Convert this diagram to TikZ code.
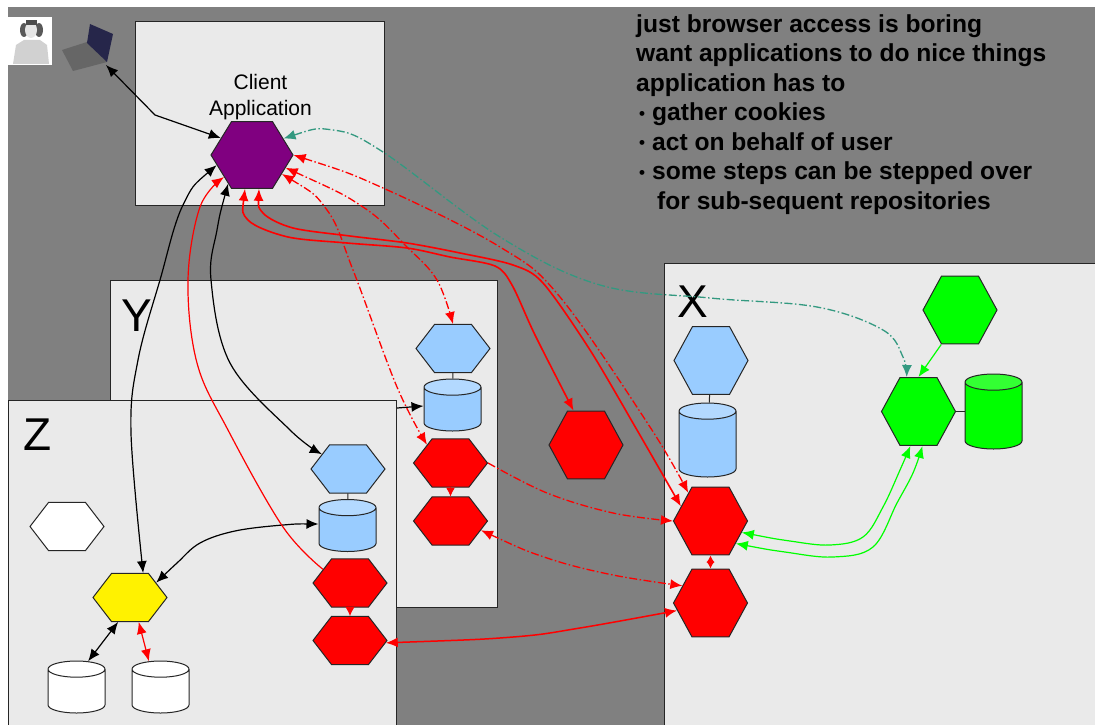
\documentclass[tikz,border=0pt]{standalone}
\usepackage{fontspec}
\setmainfont{Liberation Sans}
\usetikzlibrary{shapes.geometric,arrows.meta}
\definecolor{hallgray}{HTML}{808080}
\definecolor{boxgray}{HTML}{EAEAEA}
\definecolor{repoblue}{HTML}{99CCFF}
\definecolor{repocap}{HTML}{B3D9FF}
\definecolor{appviolet}{HTML}{800080}
\definecolor{repogreen}{HTML}{00FF00}
\definecolor{greencap}{HTML}{33FF33}
\definecolor{flowteal}{HTML}{339980}
\newcommand{\notedot}{\hspace*{3pt}\raisebox{1.5pt}{\fontsize{17}{17}\selectfont\textbullet}\hspace{7pt}}
\tikzset{
	domainbox/.style = {rectangle, draw = black!85, fill = boxgray, line width = 1.2pt, inner sep = 0pt, anchor = north west},
	domainmark/.style = {font = \fontsize{46}{46}\selectfont},
	hexa/.style = {regular polygon, regular polygon sides = 6, minimum size = 74pt, inner sep = 0pt, draw = black!85, line width = 1pt},
	hexflat/.style = {hexa, yscale = .75},
	hexfull/.style = {hexa, yscale = 1.06},
	repo/.style = {cylinder, shape border rotate = 90, shape aspect = 2.7, anchor = shape center, minimum width = 57pt, draw = black!85, line width = 1pt, inner sep = 3pt, cylinder uses custom fill},
	bluerepo/.style = {repo, minimum height = 52pt, cylinder body fill = repoblue, cylinder end fill = repocap},
	flow/.style = {line width = 1.2pt, {Latex[length = 12pt, width = 10pt]}-{Latex[length = 12pt, width = 10pt]}},
	intoflow/.style = {line width = 1.2pt, -{Latex[length = 12pt, width = 10pt]}},
	dotflow/.style = {line width = 1.3pt, dash pattern = on 8pt off 2.5pt on 1.5pt off 2.5pt},
	link/.style = {line width = 1pt, draw = black!85},
	stub/.style = {draw = red, line width = 1pt, -{Latex[length = 9pt, width = 9pt]}}
}
\begin{document}
\begin{tikzpicture}[x = 1pt, y = -1pt]
	\useasboundingbox (0,0) rectangle (1095,725);
	\fill[hallgray] (8,7) rectangle (1095,725);

	\node[domainbox, minimum width = 249pt, minimum height = 184pt] (clientbox) at (135,21) {};
	\node[domainbox, minimum width = 431pt, minimum height = 470pt] (xbox) at (664,263) {};
	\node[domainbox, minimum width = 387pt, minimum height = 327pt] (ybox) at (110,280) {};
	\node[domainbox, minimum width = 388pt, minimum height = 333pt] (zbox) at (8,400) {};

	\node[domainmark] (xmark) at (693,302) {X};
	\node[domainmark] (ymark) at (137,316) {Y};
	\node[domainmark] (zmark) at (38,435) {Z};

	\node[rectangle, fill = white, minimum width = 44pt, minimum height = 48pt, inner sep = 0pt] (person) at (30,41) {};
	\fill[black!18] (13,64) -- (16,45) -- (24,40) -- (40,40) -- (47,45) -- (49,64) -- cycle;
	\fill[black!65] (24,30) ellipse (4pt and 7pt) (39,30) ellipse (4pt and 7pt);
	\fill[black!10] (31,30) ellipse (6pt and 8pt);
	\fill[black!70] (26,20) rectangle (37,25);

	\fill[black!60] (62,50) -- (87,42) -- (107,62) -- (73,71) -- cycle;
	\fill[black!80!blue!70!gray] (90,24) -- (113,34) -- (107,62) -- (87,43) -- cycle;
	\coordinate (laptop) at (106,65);

	\node[font = \fontsize{21}{25.5}\selectfont, align = center, inner sep = 0pt] (clientlabel) at (260.5,97) {Client\\Application};
	\node[font = \bfseries\fontsize{24.6}{29.5}\selectfont, align = left, anchor = north west, inner sep = 0pt] (notes) at (636,14) {just browser access is boring\\want applications to do nice things\\application has to\\\notedot gather cookies\\\notedot act on behalf of user\\\notedot some steps can be stepped over\\\hspace*{21pt}for sub-sequent repositories};

	\node[hexa, fill = appviolet, minimum size = 82pt, yscale = .94] (client) at (252,155) {};

	\node[hexflat, fill = repoblue] (yblue) at (453,348.5) {};
	\node[bluerepo] (ydata) at (452.5,405) {};
	\node[hexflat, fill = red] (yredtop) at (450.5,463) {};
	\node[hexflat, fill = red] (yredlow) at (450.5,521) {};

	\node[hexfull, fill = red] (lonered) at (586,445) {};

	\node[hexflat, fill = repoblue] (zblue) at (348,469) {};
	\node[bluerepo] (zdata) at (347.5,525.5) {};
	\node[hexflat, fill = red] (zredtop) at (350,583) {};
	\node[hexflat, fill = red] (zredlow) at (350,640.5) {};
	\node[hexflat, fill = white] (zwhite) at (67,526.5) {};
	\node[hexflat, fill = yellow] (zyellow) at (130,597.5) {};
	\node[repo, minimum height = 52pt, cylinder body fill = white, cylinder end fill = white] (zstoreleft) at (76.5,687) {};
	\node[repo, minimum height = 52pt, cylinder body fill = white, cylinder end fill = white] (zstoreright) at (160.5,687) {};

	\node[hexfull, fill = repoblue] (xblue) at (711,360.5) {};
	\node[repo, minimum height = 74pt, cylinder body fill = repoblue, cylinder end fill = repocap] (xdata) at (707.5,440) {};
	\node[hexfull, fill = red] (xredtop) at (710.5,521) {};
	\node[hexfull, fill = red] (xredlow) at (710.5,603) {};
	\node[hexfull, fill = repogreen] (greentop) at (960,310) {};
	\node[hexfull, fill = repogreen] (greenmid) at (918.5,411.5) {};
	\node[repo, minimum height = 75pt, cylinder body fill = repogreen, cylinder end fill = greencap] (greendata) at (993.5,411.5) {};

	\draw[link] (yblue) -- (ydata);
	\draw[link] (zblue) -- (zdata);
	\draw[link] (xblue) -- (xdata);
	\draw[link] (greenmid) -- (greendata.west |- greenmid);

	\coordinate (zedge) at (zbox.east |- 0,408);
	\draw[intoflow, black] (zedge) -- (ydata.west |- 0,406);
	\draw[flow, black] (client.150) -- (155,115) -- (laptop);
	\draw[flow, black] plot[smooth, tension = .6] coordinates {(client.197) (183,205) (160,280) (138,360) (131,433) (zyellow.68)};
	\draw[flow, black] plot[smooth, tension = .6] coordinates {(client.232) (217,230) (211,280) (230,363) (290,430) (zblue.143)};
	\draw[flow, black] plot[smooth, tension = .6] coordinates {(zdata.west |- 0,524) (283,525) (235,531) (200,543) (177,563) (zyellow.37)};
	\draw[flow, black] (zyellow.250) -- (zstoreleft.70);
	\draw[flow, red] (zyellow.285) -- (zstoreright.110);

	\draw[intoflow, red] plot[smooth, tension = .6] coordinates {(zredtop.146) (283,527) (228,430) (197,363) (188,280) (200,207) (client.220)};
	\draw[flow, red, line width = 1.6pt] plot[smooth, tension = .5] coordinates {(client.259) (248,220) (288,237) (347,243) (407,248) (450,257) (495,266) (512,285) (535,335) (lonered.111)};
	\draw[flow, red, line width = 1.6pt] plot[smooth, tension = .5] coordinates {(client.281) (263,213) (293,228) (350,236) (407,243) (460,253) (513,265) (543,283) (590,350) (637,430) (xredtop.155)};
	\draw[flow, red, dotflow] plot[smooth, tension = .6] coordinates {(client.0) (383,188) (500,247) (560,297) (650,427) (xredtop.130)};
	\draw[flow, red, dotflow] plot[smooth, tension = .6] coordinates {(client.-22) (363,207) (407,247) (437,280) (yblue.90)};
	\draw[flow, red, dotflow] plot[smooth, tension = .6] coordinates {(client.-34) (327,210) (353,270) (397,387) (yredtop.134)};
	\draw[intoflow, red, dotflow] plot[smooth, tension = .6] coordinates {(yredtop.0) (547,493) (613,513) (xredtop.180)};
	\draw[flow, red, dotflow] plot[smooth, tension = .6] coordinates {(yredlow.-22) (547,558) (613,575) (xredlow.150)};
	\draw[flow, red, line width = 1.5pt] plot[smooth, tension = .6] coordinates {(zredlow.-5) (513,637) (580,628) (xredlow.192)};

	\draw[flow, flowteal, dotflow] plot[smooth, tension = .6] coordinates {(client.29) (333,130) (383,152) (500,237) (600,285) (710,298) (817,307) (883,330) (903,357) (greenmid.110)};

	\draw[intoflow, repogreen] (greentop.240) -- (greenmid.90);
	\draw[flow, repogreen] plot[smooth, tension = .6] coordinates {(xredtop.-19) (790,541) (830,545) (863,537) (883,507) (900,470) (greenmid.256)};
	\draw[flow, repogreen] plot[smooth, tension = .6] coordinates {(xredtop.-40) (785,552) (833,557) (873,547) (897,503) (913,473) (greenmid.277)};

	\draw[stub] (yredtop) -- (yredlow.north);
	\draw[stub] (zredtop) -- (zredlow.north);
	\draw[red, line width = 1pt, {Latex[length = 7pt, width = 8pt]}-{Latex[length = 7pt, width = 8pt]}] (xredtop.south) -- (xredlow.north);
\end{tikzpicture}
\end{document}
